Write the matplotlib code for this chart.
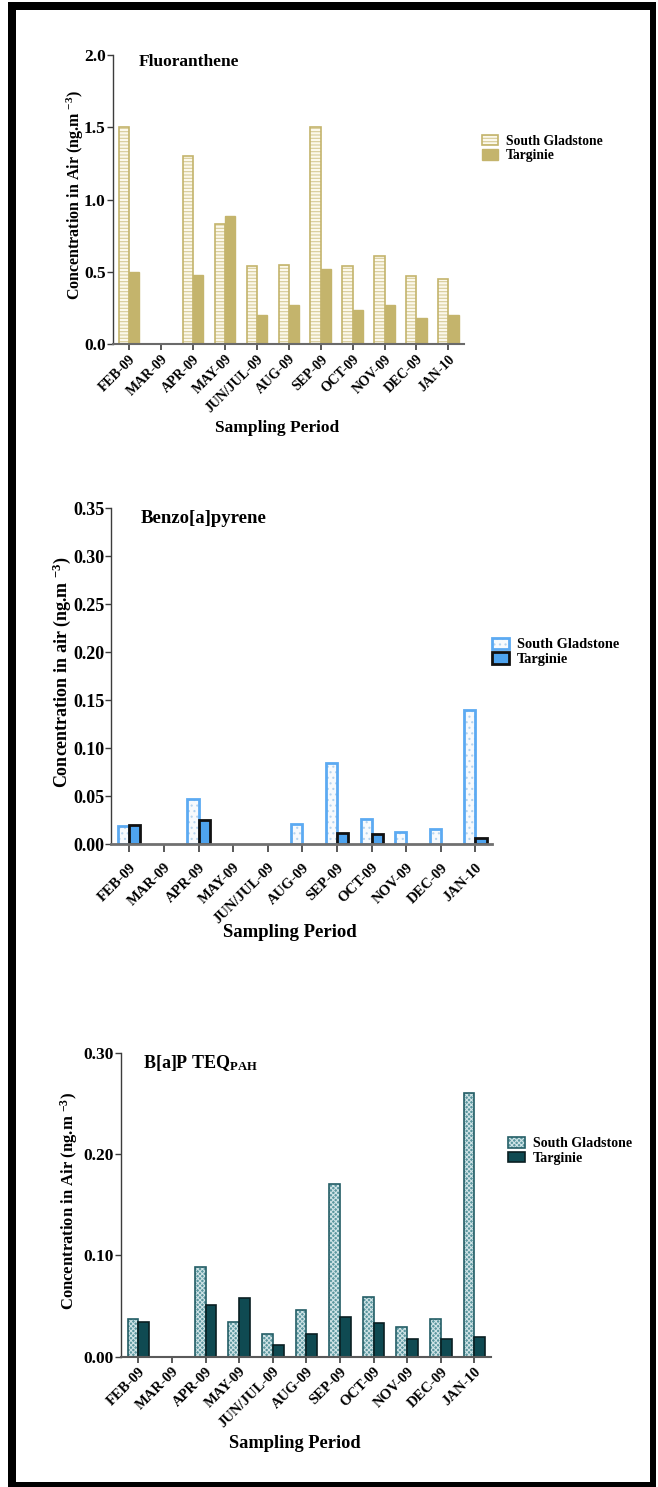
import numpy as np
import matplotlib
matplotlib.use("Agg")
from matplotlib import pyplot as plt
from matplotlib.patches import Rectangle
from matplotlib.ticker import FormatStrFormatter, MultipleLocator
from matplotlib.legend_handler import HandlerTuple

# datos: concentraciones mensuales (ng/m3) en los dos sitios de muestreo
periods = ['FEB-09', 'MAR-09', 'APR-09', 'MAY-09', 'JUN/JUL-09', 'AUG-09',
           'SEP-09', 'OCT-09', 'NOV-09', 'DEC-09', 'JAN-10']
sites = ['South Gladstone', 'Targinie']
nan = np.nan

fluor_sg = [1.50, nan, 1.30, 0.83, 0.54, 0.55, 1.50, 0.54, 0.61, 0.47, 0.45]
fluor_tg = [0.50, nan, 0.48, 0.89, 0.20, 0.27, 0.52, 0.24, 0.27, 0.18, 0.20]

bap_sg = [0.019, nan, 0.047, nan, nan, 0.021, 0.085, 0.026, 0.013, 0.016, 0.140]
bap_tg = [0.020, nan, 0.025, nan, nan, nan, 0.012, 0.011, nan, nan, 0.007]

teq_sg = [0.037, nan, 0.089, 0.034, 0.022, 0.046, 0.170, 0.059, 0.029, 0.037, 0.260]
teq_tg = [0.034, nan, 0.051, 0.058, 0.012, 0.022, 0.039, 0.033, 0.017, 0.017, 0.019]

W, H = 658, 1487

plt.rcParams['font.family'] = ['Liberation Serif', 'DejaVu Serif']
plt.rcParams['font.weight'] = 'bold'
plt.rcParams['mathtext.fontset'] = 'custom'
plt.rcParams['mathtext.rm'] = 'Liberation Serif:bold'
plt.rcParams['mathtext.bf'] = 'Liberation Serif:bold'
plt.rcParams['mathtext.it'] = 'Liberation Serif:bold:italic'
plt.rcParams['hatch.linewidth'] = 0.8

fig = plt.figure(figsize=(W / 100, H / 100), dpi=100)


def px_axes(left, top, right, bottom):
    return fig.add_axes([left / W, 1 - bottom / H, (right - left) / W, (bottom - top) / H])


def ftext(x, y, s, **kw):
    return fig.text(x / W, 1 - y / H, s, **kw)


def barras(ax, x, vals, w, fc, ec, lw, hatch=None, hcolor=None):
    # relleno con trama primero, contorno encima
    if hatch:
        fill = ax.bar(x, vals, w, color=fc, edgecolor=hcolor, hatch=hatch, linewidth=0)
    else:
        fill = ax.bar(x, vals, w, color=fc, linewidth=0)
    borde = ax.bar(x, vals, w, fill=False, edgecolor=ec, linewidth=lw)
    return (fill[0], borde[0])


def panel(box, sg, tg, sg_style, tg_style, ymax, ystep, fmt, sizes, xcol, xlw, xtick_len, xpad):
    ax = px_axes(*box)
    x = np.arange(len(periods))
    w = 0.32
    h1 = barras(ax, x - w / 2, sg, w, **sg_style)
    h2 = barras(ax, x + w / 2, tg, w, **tg_style)

    ax.set_xlim(-0.52, len(periods) - 0.51)
    ax.set_ylim(0, ymax)
    ax.yaxis.set_major_locator(MultipleLocator(ystep))
    ax.yaxis.set_major_formatter(FormatStrFormatter(fmt))
    ax.set_xticks(x)
    ax.set_xticklabels(periods, rotation=45, ha='right', rotation_mode='anchor',
                       fontsize=sizes['xt'])
    for lab in ax.get_yticklabels():
        lab.set_fontsize(sizes['yt'])

    for s in ['top', 'right']:
        ax.spines[s].set_visible(False)
    ax.spines['left'].set_color('#3c3c3c')
    ax.spines['left'].set_linewidth(1.0)
    ax.spines['bottom'].set_color(xcol)
    ax.spines['bottom'].set_linewidth(xlw)
    ax.tick_params(axis='y', length=4, width=1, color='#3c3c3c', pad=1)
    ax.tick_params(axis='x', length=xtick_len, width=1.2, color='#3c3c3c', pad=xpad)
    return ax, [h1, h2]


def leyenda(ax, handles, left, top, size):
    ax.legend(handles, sites, loc='upper left', bbox_to_anchor=(left / W, 1 - top / H),
              bbox_transform=fig.transFigure, frameon=False, borderpad=0,
              borderaxespad=0, handlelength=1.2, handleheight=0.8,
              handletextpad=0.55, labelspacing=0.1, fontsize=size,
              handler_map={tuple: HandlerTuple(ndivide=1)})


# --- Fluoranthene ---
tan = '#c4b46c'
ax1, h = panel((112.6, 55, 464, 344.3), fluor_sg, fluor_tg,
               dict(fc='#fcf9ec', ec=tan, lw=1.2, hatch='-----', hcolor='#d8cc98'),
               dict(fc=tan, ec=tan, lw=1.0),
               2.0, 0.5, '%.1f', dict(xt=10, yt=12.5), '#6a6a6a', 1.5, 4, 2)
leyenda(ax1, h, 482, 135, 9.8)
ftext(138.7, 61.7, 'Fluoranthene', fontsize=12.5, va='center')
ftext(75.6, 195, 'Concentration in Air (ng.m $^{-3}$)', rotation=90, fontsize=11.5,
      ha='center', va='center')
ftext(277, 428, 'Sampling Period', fontsize=12.5, ha='center', va='center')

# --- Benzo[a]pyrene ---
ax2, h = panel((111.3, 508.3, 492.4, 844.3), bap_sg, bap_tg,
               dict(fc='#f7fafd', ec='#5caaf2', lw=2.0, hatch='...', hcolor='#b4d3ef'),
               dict(fc='#4ea3ee', ec='#111111', lw=2.0),
               0.35, 0.05, '%.2f', dict(xt=10.5, yt=13), '#707070', 2.0, 6, 6)
leyenda(ax2, h, 491.6, 637.5, 10.4)
ftext(140.8, 518.3, 'Benzo[a]pyrene', fontsize=13.5, va='center')
ftext(62.2, 672.5, 'Concentration in air (ng.m $^{-3}$)', rotation=90, fontsize=13,
      ha='center', va='center')
ftext(290, 933, 'Sampling Period', fontsize=13.5, ha='center', va='center')

# --- B[a]P TEQ ---
ax3, h = panel((121, 1052.7, 490.8, 1356.7), teq_sg, teq_tg,
               dict(fc='#5b979f', ec='#245e66', lw=1.2, hatch='xxxxxxx', hcolor='#cfe3e6'),
               dict(fc='#0f4a52', ec='#0a1f22', lw=1.2),
               0.30, 0.10, '%.2f', dict(xt=10.5, yt=12.5), '#5a5a5a', 1.5, 4, 2)
leyenda(ax3, h, 508.4, 1137, 10.1)
ftext(142.9, 1062.7, r'B[a]P TEQ$_{\mathrm{PAH}}$', fontsize=13, va='center')
ftext(69.3, 1200.8, 'Concentration in Air (ng.m $^{-3}$)', rotation=90, fontsize=12,
      ha='center', va='center')
ftext(294.5, 1443.3, 'Sampling Period', fontsize=13.2, ha='center', va='center')

# marco negro alrededor de la figura
for (x0, y0, x1, y1) in [(8, 2, 656, 10), (8, 2, 16, 1487), (8, 1482, 656, 1487),
                         (650, 2, 656, 1487)]:
    fig.add_artist(Rectangle((x0 / W, 1 - y1 / H), (x1 - x0) / W, (y1 - y0) / H,
                             transform=fig.transFigure, color='black', lw=0))

fig.savefig('out.png', dpi=100)
